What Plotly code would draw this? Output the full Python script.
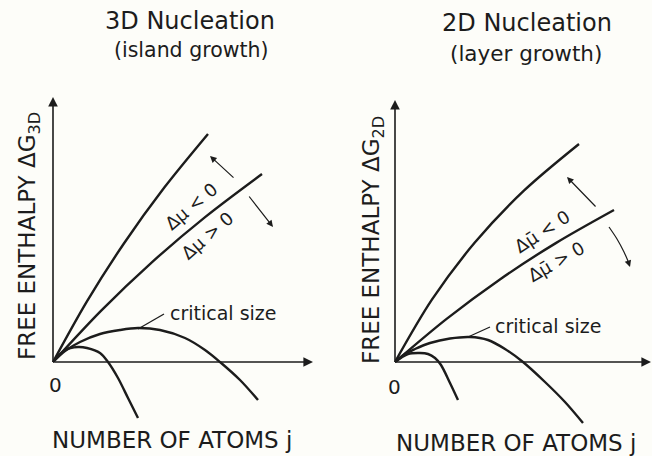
import plotly.graph_objects as go

# ---- 3D nucleation (island growth): free enthalpy vs. number of atoms ----
x3d_neg_strong = [0.0, 3.38, 7.09, 11.13, 15.5]
y3d_neg_strong = [0.0, 6.04, 11.85, 17.44, 22.8]
x3d_neg_weak = [0.0, 4.82, 9.91, 15.27, 20.9]
y3d_neg_weak = [0.0, 5.14, 9.99, 14.54, 18.8]
x3d_pos_weak = [0.0, 1.2, 2.7, 4.7, 6.7, 8.5, 10.7, 13.2, 15.2, 16.7, 18.7, 20.5]
y3d_pos_weak = [0.0, 1.1, 2.0, 2.8, 3.2, 3.4, 3.2, 2.4, 1.2, 0.0, -1.8, -3.8]
x3d_pos_strong = [0.0, 1.2, 2.5, 3.4, 4.7, 5.5, 6.5, 7.5, 8.5]
y3d_pos_strong = [0.0, 1.2, 1.5, 1.4, 0.9, 0.0, -1.6, -3.6, -5.6]

# ---- 2D nucleation (layer growth) ----
x2d_neg_strong = [0.0, 3.69, 7.98, 12.89, 18.4]
y2d_neg_strong = [0.0, 6.23, 11.94, 17.13, 21.8]
x2d_neg_weak = [0.0, 5.13, 10.49, 16.08, 21.9]
y2d_neg_weak = [0.0, 4.29, 8.26, 11.89, 15.2]
x2d_pos_weak = [0.0, 1.0, 2.0, 3.5, 5.5, 7.5, 9.3, 11.0, 12.8, 15.0, 17.0, 18.8]
y2d_pos_weak = [0.0, 0.8, 1.3, 1.9, 2.35, 2.5, 2.2, 1.3, 0.0, -2.0, -4.0, -6.1]
x2d_pos_strong = [0.0, 1.3, 2.5, 3.3, 4.0, 4.6, 5.5, 6.3]
y2d_pos_strong = [0.0, 0.8, 0.9, 0.8, 0.4, -0.3, -2.1, -3.8]

# critical-size leader lines (from the maximum of the curve to the label)
crit3d = [(8.5, 3.3), (11.1, 4.8)]
crit2d = [(7.3, 2.5), (9.5, 3.5)]

# curved "increasing Δμ̄" arrow in the 2D panel
x2d_arrow = [21.4, 22.2, 22.9, 23.3, 23.5]
y2d_arrow = [13.5, 12.3, 11.0, 10.1, 9.5]

INK = "#1c1c1c"
FONT = "DejaVu Sans"
BG = "#fdfdf9"

fig = go.Figure()

def curve(xs, ys, xa, ya, width=2.4):
    fig.add_trace(go.Scatter(
        x=xs, y=ys, xaxis=xa, yaxis=ya, mode="lines",
        line=dict(color=INK, width=width, shape="spline", smoothing=0.9),
        hoverinfo="skip", showlegend=False, cliponaxis=False))

for xs, ys in [(x3d_neg_strong, y3d_neg_strong), (x3d_neg_weak, y3d_neg_weak),
               (x3d_pos_weak, y3d_pos_weak), (x3d_pos_strong, y3d_pos_strong)]:
    curve(xs, ys, "x", "y")
for xs, ys in [(x2d_neg_strong, y2d_neg_strong), (x2d_neg_weak, y2d_neg_weak),
               (x2d_pos_weak, y2d_pos_weak), (x2d_pos_strong, y2d_pos_strong)]:
    curve(xs, ys, "x2", "y2")

# leader lines to "critical size"
curve([p[0] for p in crit3d], [p[1] for p in crit3d], "x", "y", width=1.3)
curve([p[0] for p in crit2d], [p[1] for p in crit2d], "x2", "y2", width=1.3)
# curved arrow shaft (2D)
curve(x2d_arrow[:-1], y2d_arrow[:-1], "x2", "y2", width=1.2)

ann = []

def arrow(xr, yr, x0, y0, x1, y1, width=1.6, size=1.2):
    ann.append(dict(xref=xr, yref=yr, axref=xr, ayref=yr, x=x1, y=y1, ax=x0, ay=y0,
                    text="", showarrow=True, arrowhead=2, arrowsize=size,
                    arrowwidth=width, arrowcolor=INK, standoff=0, startstandoff=0))

def label(xr, yr, x, y, text, size, angle=0, xanchor="center"):
    ann.append(dict(xref=xr, yref=yr, x=x, y=y, text=text, showarrow=False,
                    textangle=angle, xanchor=xanchor, yanchor="middle",
                    font=dict(family=FONT, size=size, color=INK)))

# coordinate axes with arrow tips
arrow("x", "y", 0, 0, 26.0, 0)
arrow("x", "y", 0, 0, 0, 26.5)
arrow("x2", "y2", 0, 0, 25.6, 0)
arrow("x2", "y2", 0, 0, 0, 26.2)

# direction-of-change arrows
arrow("x", "y", 18.2, 18.3, 15.7, 20.6, width=1.2, size=1.1)
arrow("x", "y", 19.5, 16.7, 22.0, 13.5, width=1.2, size=1.1)
arrow("x2", "y2", 20.2, 15.4, 17.2, 18.5, width=1.2, size=1.1)
arrow("x2", "y2", x2d_arrow[-2], y2d_arrow[-2], x2d_arrow[-1], y2d_arrow[-1], width=1.2, size=1.1)

# panel headings
label("x", "y", 13.7, 34.1, "3D Nucleation", 24)
label("x", "y", 13.8, 31.2, "(island growth)", 20.5)
label("x2", "y2", 13.2, 33.9, "2D Nucleation", 24)
label("x2", "y2", 13.1, 30.9, "(layer growth)", 21.5)

# axis titles
label("x", "y", 11.85, -7.8, "NUMBER OF ATOMS j", 23)
label("x2", "y2", 12.1, -8.1, "NUMBER OF ATOMS j", 23)
label("x", "y", -2.4, 12.6, "FREE ENTHALPY ΔG<sub>3D</sub>", 23, angle=-90)
label("x2", "y2", -2.2, 12.2, "FREE ENTHALPY ΔG<sub>2D</sub>", 23, angle=-90)
label("x", "y", 0.2, -2.3, "0", 20)
label("x2", "y2", -0.1, -2.5, "0", 20)

# curve labels
label("x", "y", 11.5, 4.9, "critical size", 19, xanchor="left")
label("x2", "y2", 9.8, 3.6, "critical size", 19, xanchor="left")
label("x", "y", 13.75, 15.6, "Δμ < 0", 18, angle=-40)
label("x", "y", 15.4, 12.7, "Δμ > 0", 18, angle=-41)
label("x2", "y2", 14.7, 13.1, "Δμ\u0304 < 0", 18, angle=-33)
label("x2", "y2", 16.1, 10.1, "Δμ\u0304 > 0", 18, angle=-30)

hidden = dict(visible=False, fixedrange=True)
fig.update_layout(
    width=652, height=456, margin=dict(l=0, r=0, t=0, b=0),
    paper_bgcolor=BG, plot_bgcolor=BG, showlegend=False,
    xaxis=dict(domain=[0, 0.5], range=[-5.3, 27.3], **hidden),
    yaxis=dict(domain=[0, 1], range=[-9.4, 36.2], **hidden),
    xaxis2=dict(domain=[0.5, 1], range=[-6.9, 25.7], anchor="y2", **hidden),
    yaxis2=dict(domain=[0, 1], range=[-9.4, 36.2], anchor="x2", **hidden),
    annotations=ann,
)

fig.write_html("out.html")
